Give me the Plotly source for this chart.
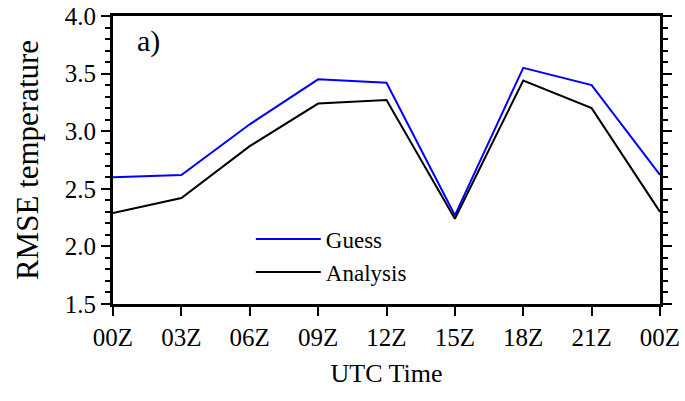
import plotly.graph_objects as go

hours = [0, 3, 6, 9, 12, 15, 18, 21, 24]
tick_labels = ["00Z", "03Z", "06Z", "09Z", "12Z", "15Z", "18Z", "21Z", "00Z"]
guess = [2.60, 2.62, 3.06, 3.45, 3.42, 2.27, 3.55, 3.40, 2.62]
analysis = [2.29, 2.42, 2.87, 3.24, 3.27, 2.24, 3.44, 3.20, 2.30]

font_family = "Liberation Serif, Times New Roman, serif"

fig = go.Figure()
fig.add_trace(go.Scatter(x=hours, y=guess, mode="lines", name="Guess",
                         line=dict(color="#0000ff", width=2)))
fig.add_trace(go.Scatter(x=hours, y=analysis, mode="lines", name="Analysis",
                         line=dict(color="#000000", width=2)))

fig.update_layout(
    width=685, height=401,
    margin=dict(l=113, r=25, t=16, b=97),
    plot_bgcolor="white", paper_bgcolor="white",
    font=dict(family=font_family, color="black", size=24),
    showlegend=True,
    legend=dict(x=0.252, y=0.30, xanchor="left", yanchor="top",
                bgcolor="rgba(0,0,0,0)", font=dict(size=23),
                tracegroupgap=0, itemwidth=65),
    xaxis=dict(range=[0, 24], tickvals=hours, ticktext=tick_labels,
               automargin=False,
               showgrid=False, zeroline=False, showline=True, linecolor="black",
               linewidth=3, mirror=True, ticks="outside", ticklen=9, tickwidth=2,
               tickcolor="black", tickfont=dict(size=25),
               title=dict(text="UTC Time", font=dict(size=26), standoff=14)),
    yaxis=dict(range=[1.5, 4.0], tickvals=[1.5, 2.0, 2.5, 3.0, 3.5, 4.0],
               ticktext=["1.5", "2.0", "2.5", "3.0", "3.5", "4.0"],
               automargin=False,
               showgrid=False, zeroline=False, showline=True, linecolor="black",
               linewidth=3, mirror="ticks", ticks="outside", ticklen=9, tickwidth=2,
               tickcolor="black", tickfont=dict(size=25),
               minor=dict(dtick=0.1, ticks="outside", ticklen=5, tickwidth=1.5,
                          tickcolor="black", showgrid=False),
               title=dict(text="RMSE temperature", font=dict(size=31), standoff=17)),
    annotations=[dict(text="a)", x=0.04, y=0.98, xref="paper", yref="paper",
                      xanchor="left", yanchor="top", showarrow=False,
                      font=dict(size=30))],
)

fig.write_html("out.html", config={"displayModeBar": False},
               post_script="document.body.style.margin='0';document.body.style.padding='0';")
